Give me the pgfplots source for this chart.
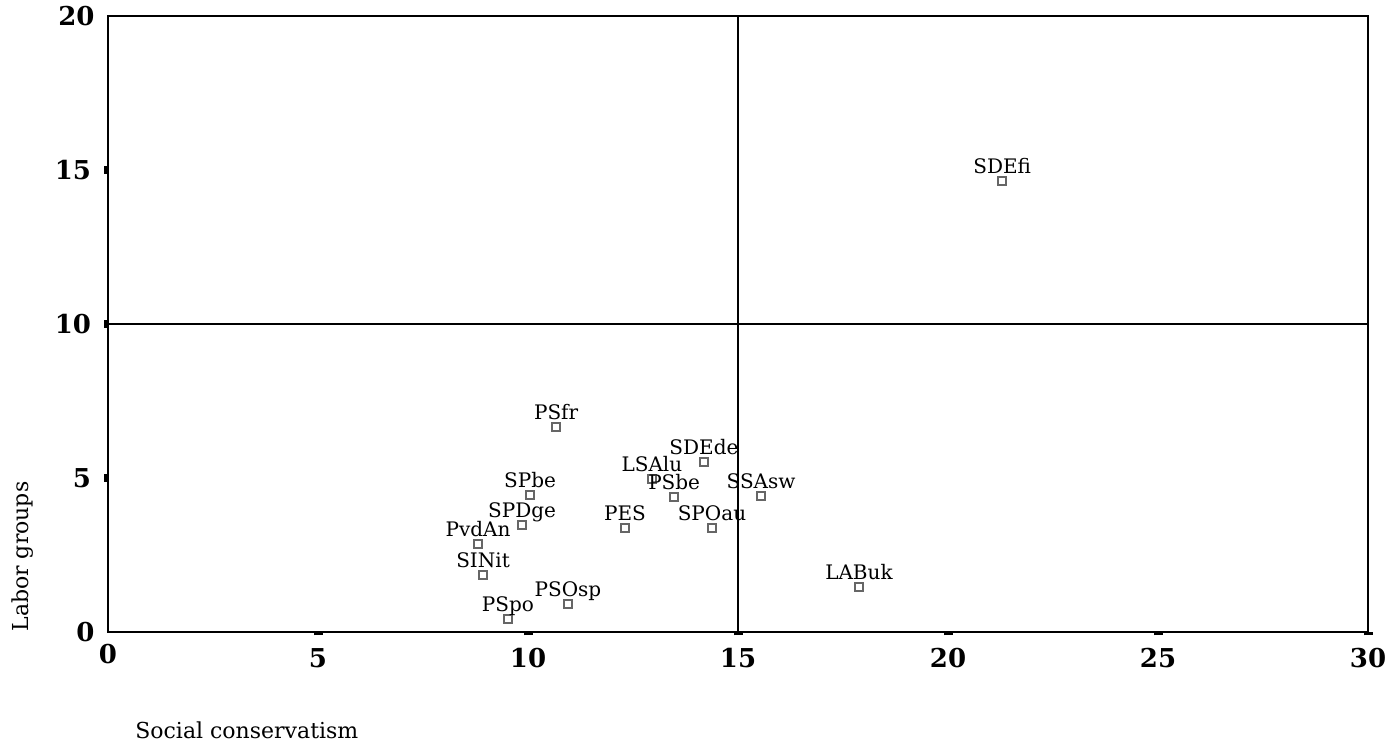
\documentclass[border=0pt]{standalone}
\usepackage{fontspec}
\setmainfont{DejaVu Serif}
\usepackage{pgfplots}
\usepackage{pgfplotstable}
\pgfplotsset{compat=1.18}
\pgfplotstableread{
x y label
21.29 14.64 SDEfi
10.67 6.66 PSfr
14.19 5.52 SDEde
12.95 4.97 LSAlu
13.48 4.38 PSbe
15.55 4.42 SSAsw
10.05 4.45 SPbe
9.86 3.47 SPDge
12.31 3.38 PES
14.38 3.38 SPOau
8.81 2.86 PvdAn
8.93 1.85 SINit
17.88 1.46 LABuk
10.95 0.91 PSOsp
9.52 0.42 PSpo
}\parties
\begin{document}
\begin{tikzpicture}
\path[use as bounding box] (-54pt,-55.5pt) rectangle (644pt,316pt);
\begin{axis}[
  at={(0pt,0pt)}, anchor=south west,
  scale only axis, width=630pt, height=308pt,
  xmin=0, xmax=30, ymin=0, ymax=20,
  axis line style={black, line width=1pt},
  xtick={5,10,...,30}, ytick={5,10,15},
  extra x ticks={0}, extra y ticks={0,20},
  extra x tick style={major tick length=0pt},
  extra y tick style={major tick length=0pt},
  tick align=outside, xtick pos=bottom, ytick pos=left,
  major tick length=1.75pt,
  xtick style={black, line width=4.5pt},
  ytick style={black, line width=4pt},
  /pgf/number format/assume math mode=true,
  ticklabel style={font=\bfseries\fontsize{13}{15}\selectfont},
  xticklabel style={yshift=-2.8pt},
  yticklabel style={xshift=-3.2pt},
  xlabel={Social conservatism},
  ylabel={Labor groups},
  xlabel style={at={(axis description cs:0.0214,-0.159)}, anchor=west, inner sep=0pt, font=\fontsize{11}{13}\selectfont},
  ylabel style={at={(axis description cs:-0.068,0)}, anchor=west, inner sep=0pt, font=\fontsize{11}{13}\selectfont},
  clip=false,
]
\addplot[black, line width=0.8pt] coordinates {(15,0) (15,20)};
\addplot[black, line width=0.8pt] coordinates {(0,10) (30,10)};
\addplot[only marks, mark=square, mark size=2pt,
  mark options={draw=black!60, fill=white, line width=0.75pt},
  point meta=explicit symbolic,
  nodes near coords,
  nodes near coords style={anchor=base, yshift=3.75pt, inner sep=0pt, text=black, font=\fontsize{10}{12}\selectfont},
] table[x=x, y=y, meta=label] {\parties};
\end{axis}
\end{tikzpicture}
\end{document}
